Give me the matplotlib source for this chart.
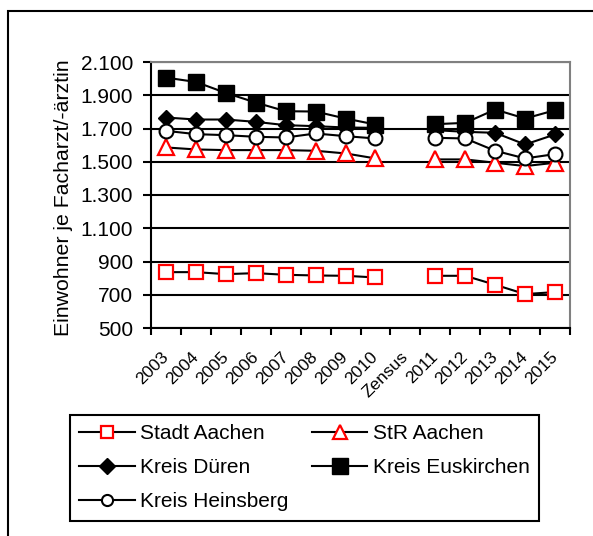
import matplotlib
matplotlib.use("Agg")
import matplotlib.pyplot as plt
import numpy as np
from matplotlib.patches import Rectangle
from matplotlib.ticker import FuncFormatter

plt.rcParams['font.family'] = ['Liberation Sans', 'DejaVu Sans']

categories = ['2003', '2004', '2005', '2006', '2007', '2008', '2009', '2010',
              'Zensus', '2011', '2012', '2013', '2014', '2015']
nan = np.nan
stadt_aachen = [836, 836, 824, 830, 820, 816, 814, 804, nan, 814, 814, 760, 704, 716]
str_aachen = [1586, 1574, 1570, 1570, 1570, 1566, 1550, 1520, nan, 1514, 1514, 1494, 1474, 1494]
kreis_dueren = [1766, 1754, 1754, 1740, 1720, 1714, 1706, 1704, nan, 1690, 1680, 1674, 1604, 1664]
kreis_euskirchen = [2006, 1980, 1914, 1856, 1804, 1802, 1760, 1724, nan, 1726, 1734, 1814, 1760, 1810]
kreis_heinsberg = [1686, 1666, 1660, 1650, 1646, 1670, 1654, 1640, nan, 1644, 1640, 1566, 1520, 1546]

fig = plt.figure(figsize=(5.93, 5.36), dpi=100)
fig.patches.append(Rectangle((8 / 593, -0.1), 2, 1 - 11 / 536 + 0.1, transform=fig.transFigure,
                             fill=False, edgecolor='black', linewidth=1.5))

ax = fig.add_axes([151 / 593, 1 - 328 / 536, (570 - 151) / 593, (328 - 62) / 536])
x = np.arange(len(categories))

l1, = ax.plot(x, stadt_aachen, color='black', lw=1.5, marker='s', ms=10.5, mfc='white', mec='red', mew=1.6,
              label='Stadt Aachen', zorder=3)
l2, = ax.plot(x, str_aachen, color='black', lw=1.5, marker='^', ms=11, mfc='white', mec='red', mew=1.6,
              label='StR Aachen', zorder=3)
l3, = ax.plot(x, kreis_dueren, color='black', lw=1.5, marker='D', ms=8, mfc='black', mec='black',
              label='Kreis Düren', zorder=3)
l4, = ax.plot(x, kreis_euskirchen, color='black', lw=1.5, marker='s', ms=11.5, mfc='black', mec='black',
              label='Kreis Euskirchen', zorder=3)
l5, = ax.plot(x, kreis_heinsberg, color='black', lw=1.5, marker='o', ms=10, mfc='white', mec='black', mew=1.5,
              label='Kreis Heinsberg', zorder=3)

ax.set_xlim(-0.5, len(categories) - 0.5)
ax.set_ylim(500, 2100)
ax.set_yticks(np.arange(500, 2101, 200))
ax.yaxis.set_major_formatter(FuncFormatter(lambda v, p: f"{v:,.0f}".replace(",", ".")))
ax.yaxis.grid(True, color='black', lw=1.5)
ax.set_axisbelow(True)

ax.set_xticks(x)
ax.set_xticklabels(categories, rotation=45, ha='right', va='center', rotation_mode='anchor')
ax.set_xticks(np.arange(-0.5, len(categories)), minor=True)
ax.tick_params(axis='x', which='major', length=0, pad=19, labelsize=12.5)
ax.tick_params(axis='x', which='minor', length=5, width=1.5, color='black')
ax.tick_params(axis='y', length=6, width=1.5, pad=7, labelsize=15)

for s in ['left', 'bottom']:
    ax.spines[s].set_linewidth(1.5)
    ax.spines[s].set_color('black')
for s in ['right', 'top']:
    ax.spines[s].set_linewidth(1.5)
    ax.spines[s].set_color('#808080')

ax.set_ylabel('Einwohner je Facharzt/-ärztin', fontsize=15.3)
ax.yaxis.set_label_coords(-0.187, 0.49)

# column-major fill: left column Stadt/Düren/Heinsberg, right column StR/Euskirchen
order = [l1, l3, l5, l2, l4]
leg = fig.legend(order, [h.get_label() for h in order], loc='upper left',
                 bbox_to_anchor=(70 / 593, 1 - 415 / 536), bbox_transform=fig.transFigure,
                 ncol=2, fontsize=15, frameon=True, fancybox=False, handlelength=2.65, handletextpad=0.25,
                 columnspacing=1.15, borderpad=0.45, labelspacing=0.72, borderaxespad=0)
leg.get_frame().set_edgecolor('black')
leg.get_frame().set_linewidth(1.5)
leg.get_frame().set_alpha(1)
for h, ms in zip(leg.legend_handles, [8, 8.5, 8, 10, 11.5]):
    h.set_markersize(ms)

fig.savefig('out.png', dpi=100)
